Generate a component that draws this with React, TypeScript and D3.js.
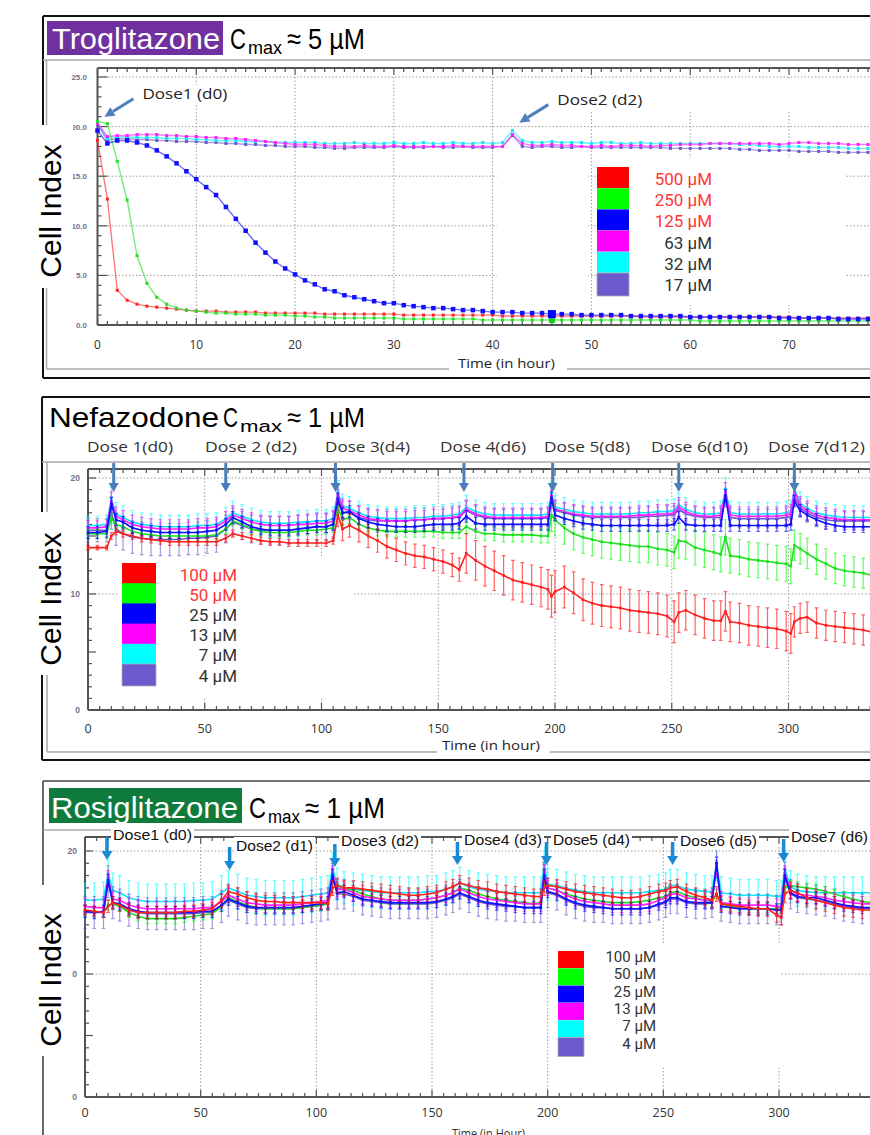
import React from 'react';
import * as d3 from 'd3';

// ---------- Troglitazone: one reading per hour ----------
const TRO_HOURS = [
  0, 1, 2, 3, 4, 5, 6, 7, 8, 9,
  10, 11, 12, 13, 14, 15, 16, 17, 18, 19,
  20, 21, 22, 23, 24, 25, 26, 27, 28, 29,
  30, 31, 32, 33, 34, 35, 36, 37, 38, 39,
  40, 41, 42, 43, 44, 45, 46, 47, 48, 49,
  50, 51, 52, 53, 54, 55, 56, 57, 58, 59,
  60, 61, 62, 63, 64, 65, 66, 67, 68, 69,
  70, 71, 72, 73, 74, 75, 76, 77, 78,
];
const TRO_500 = [
  18.6, 12.7, 3.5, 2.5, 2.1, 1.9, 1.8, 1.7, 1.6, 1.5,
  1.4, 1.4, 1.4, 1.3, 1.3, 1.3, 1.3, 1.2, 1.2, 1.2,
  1.2, 1.2, 1.2, 1.1, 1.1, 1.1, 1.1, 1.1, 1.1, 1.1,
  1.1, 1.0, 1.0, 1.0, 1.0, 1.0, 1.0, 1.0, 1.0, 1.0,
  1.0, 0.9, 0.9, 0.9, 0.9, 0.9, 0.9, 0.9, 0.9, 0.9,
  0.9, 0.9, 0.9, 0.9, 0.9, 0.8, 0.8, 0.8, 0.8, 0.8,
  0.8, 0.8, 0.8, 0.8, 0.8, 0.8, 0.8, 0.8, 0.8, 0.8,
  0.8, 0.7, 0.7, 0.7, 0.7, 0.7, 0.7, 0.7, 0.7,
];
const TRO_250 = [
  20.5, 20.3, 16.5, 12.6, 7.0, 4.2, 2.8, 2.1, 1.7, 1.5,
  1.4, 1.3, 1.2, 1.2, 1.1, 1.1, 1.1, 1.0, 1.0, 1.0,
  0.9, 0.9, 0.8, 0.8, 0.7, 0.7, 0.7, 0.7, 0.7, 0.7,
  0.7, 0.6, 0.6, 0.6, 0.6, 0.6, 0.6, 0.6, 0.6, 0.5,
  0.5, 0.5, 0.5, 0.5, 0.5, 0.5, 0.5, 0.5, 0.5, 0.5,
  0.5, 0.5, 0.5, 0.5, 0.5, 0.5, 0.5, 0.5, 0.5, 0.5,
  0.5, 0.4, 0.4, 0.4, 0.4, 0.4, 0.4, 0.4, 0.4, 0.4,
  0.4, 0.4, 0.4, 0.4, 0.4, 0.4, 0.4, 0.4, 0.4,
];
const TRO_125 = [
  19.6, 18.3, 18.6, 18.6, 18.4, 18.1, 17.6, 17.0, 16.3, 15.5,
  14.7, 13.9, 13.1, 11.9, 10.7, 9.5, 8.3, 7.3, 6.4, 5.7,
  5.1, 4.5, 4.1, 3.6, 3.4, 3.0, 2.8, 2.6, 2.4, 2.2,
  2.2, 2.0, 1.9, 1.8, 1.7, 1.7, 1.6, 1.5, 1.5, 1.4,
  1.3, 1.3, 1.3, 1.2, 1.2, 1.2, 1.1, 1.1, 1.1, 1.0,
  1.0, 1.0, 1.0, 1.0, 0.9, 0.9, 0.9, 0.9, 0.9, 0.9,
  0.8, 0.8, 0.8, 0.8, 0.8, 0.8, 0.8, 0.8, 0.8, 0.7,
  0.7, 0.7, 0.7, 0.7, 0.7, 0.6, 0.6, 0.6, 0.6,
];
const TRO_63 = [
  20.3, 19.0, 19.1, 19.1, 19.2, 19.2, 19.2, 19.1, 19.1, 19.0,
  19.0, 18.9, 18.9, 18.8, 18.8, 18.7, 18.6, 18.5, 18.4, 18.3,
  18.2, 18.2, 18.2, 18.1, 18.0, 18.0, 18.0, 18.1, 18.0, 18.0,
  18.1, 18.0, 18.0, 18.0, 18.0, 18.0, 18.1, 18.0, 18.0, 18.0,
  18.0, 18.0, 19.2, 18.3, 18.1, 18.1, 18.2, 18.1, 18.1, 18.0,
  18.0, 18.1, 18.0, 18.1, 18.1, 18.1, 18.0, 18.1, 18.1, 18.2,
  18.2, 18.2, 18.3, 18.3, 18.3, 18.3, 18.3, 18.3, 18.3, 18.2,
  18.3, 18.4, 18.4, 18.3, 18.3, 18.3, 18.2, 18.2, 18.2,
];
const TRO_32 = [
  20.5, 18.8, 19.0, 19.0, 18.9, 18.9, 18.9, 18.8, 18.8, 18.8,
  18.7, 18.7, 18.6, 18.6, 18.6, 18.5, 18.5, 18.5, 18.4, 18.4,
  18.4, 18.4, 18.4, 18.3, 18.3, 18.3, 18.4, 18.3, 18.3, 18.3,
  18.4, 18.3, 18.3, 18.4, 18.3, 18.3, 18.4, 18.3, 18.3, 18.4,
  18.3, 18.4, 19.6, 18.6, 18.4, 18.4, 18.5, 18.4, 18.4, 18.4,
  18.3, 18.4, 18.4, 18.3, 18.3, 18.4, 18.3, 18.3, 18.3, 18.3,
  18.3, 18.3, 18.3, 18.3, 18.3, 18.2, 18.2, 18.1, 18.0, 18.0,
  18.0, 18.0, 17.9, 17.9, 17.9, 17.9, 17.8, 17.8, 17.8,
];
const TRO_17 = [
  20.2, 18.6, 18.8, 18.8, 18.7, 18.7, 18.6, 18.6, 18.5, 18.5,
  18.5, 18.4, 18.4, 18.3, 18.3, 18.2, 18.2, 18.1, 18.1, 18.0,
  18.0, 18.0, 17.9, 17.9, 17.8, 17.8, 17.9, 17.9, 17.9, 17.9,
  18.0, 17.9, 17.9, 17.9, 18.0, 17.9, 17.9, 18.0, 17.9, 17.9,
  17.9, 18.0, 19.1, 18.0, 17.9, 18.0, 18.0, 17.9, 17.9, 18.0,
  17.9, 17.9, 17.9, 17.9, 17.9, 17.9, 17.9, 17.9, 17.8, 17.8,
  17.8, 17.8, 17.8, 17.8, 17.8, 17.7, 17.7, 17.6, 17.6, 17.6,
  17.6, 17.5, 17.5, 17.5, 17.5, 17.4, 17.4, 17.4, 17.4,
];
const TRO_CONC = ['500 µM', '250 µM', '125 µM', '63 µM', '32 µM', '17 µM'];
const TRO_X_TICKS = [0, 10, 20, 30, 40, 50, 60, 70];
const TRO_Y_TICKS = [0, 5, 10, 15, 20, 25];
const TRO_DOSES = [
  { label: 'Dose1 (d0)', hour: 0.7, ci: 21.0 },
  { label: 'Dose2 (d2)', hour: 42.7, ci: 20.4 },
];
const TRO_CURSOR_HOUR = 46;

// ---------- Nefazodone / Rosiglitazone: shared read times (h) ----------
const LONG_HOURS = [
  0, 4, 8, 10, 12, 15, 19, 23, 27, 31,
  35, 39, 43, 47, 51, 55, 59, 62, 66, 70,
  74, 78, 82, 86, 90, 94, 98, 102, 105, 107,
  109, 112, 116, 120, 124, 128, 132, 136, 140, 144,
  148, 152, 156, 159, 162, 166, 170, 174, 178, 182,
  186, 190, 194, 197, 198.5, 200, 204, 208, 212, 216,
  220, 224, 228, 232, 236, 240, 244, 248, 251, 253,
  256, 260, 264, 268, 271, 273, 275, 279, 283, 287,
  291, 295, 299, 301, 302.5, 305, 308, 312, 316, 320,
  324, 328, 332, 336, 340,
];
const CONC_6 = ['100 µM', '50 µM', '25 µM', '13 µM', '7 µM', '4 µM'];
const LONG_X_TICKS = [0, 50, 100, 150, 200, 250, 300];
const LONG_Y_TICKS = [0, 10, 20];
// error bar half-widths change at each dose
const ERR_SEGMENT_STARTS = [10, 58, 107, 160, 198, 252, 302];

const NEF_100 = [
  14.0, 14.0, 14.0, 15.0, 15.4, 15.2, 15.0, 14.8, 14.7, 14.6,
  14.5, 14.5, 14.5, 14.5, 14.5, 14.5, 14.8, 15.2, 15.0, 14.8,
  14.6, 14.5, 14.5, 14.4, 14.4, 14.4, 14.4, 14.4, 14.6, 16.8,
  15.6, 15.9, 15.5, 15.0, 14.6, 14.1, 13.8, 13.5, 13.3, 13.2,
  13.0, 12.8, 12.5, 12.1, 13.5, 12.9, 12.4, 12.0, 11.6, 11.2,
  11.0, 10.8, 10.6, 10.4, 9.8, 10.2, 10.6, 10.1, 9.5, 9.2,
  9.0, 8.9, 8.8, 8.6, 8.5, 8.4, 8.3, 8.1, 7.6, 8.4,
  8.6, 8.2, 7.9, 7.7, 7.7, 8.5, 7.6, 7.5, 7.3, 7.2,
  7.1, 7.0, 6.8, 6.6, 7.6, 7.9, 8.0, 7.5, 7.3, 7.2,
  7.1, 7.0, 6.9, 6.7, 6.6,
];
const NEF_50 = [
  15.2, 15.2, 15.2, 16.5, 16.0, 15.8, 15.4, 15.2, 15.1, 15.0,
  15.0, 15.0, 15.0, 15.0, 15.0, 15.1, 15.6, 16.3, 16.0, 15.6,
  15.4, 15.3, 15.3, 15.3, 15.4, 15.5, 15.5, 15.6, 15.7, 17.5,
  16.4, 16.6, 16.0, 15.7, 15.5, 15.4, 15.4, 15.4, 15.4, 15.4,
  15.4, 15.3, 15.3, 15.3, 15.8, 15.4, 15.2, 15.2, 15.1, 15.1,
  15.1, 15.1, 15.0, 15.0, 16.8, 16.4, 15.7, 15.2, 14.9, 14.7,
  14.5, 14.4, 14.3, 14.2, 14.1, 14.1, 13.9, 13.8, 13.6, 14.6,
  14.5, 14.0, 13.8, 13.6, 13.4, 14.9, 13.3, 13.2, 13.0, 12.9,
  12.8, 12.7, 12.6, 12.4, 14.2, 13.9, 13.5, 13.0, 12.6, 12.2,
  12.0, 11.9, 11.8, 11.6, 11.5,
];
const NEF_25 = [
  15.3, 15.3, 15.4, 17.8, 16.4, 16.2, 15.7, 15.5, 15.4, 15.3,
  15.3, 15.3, 15.3, 15.3, 15.4, 15.5, 16.0, 16.6, 16.2, 15.8,
  15.6, 15.5, 15.5, 15.5, 15.6, 15.7, 15.8, 15.8, 16.0, 18.2,
  17.0, 17.1, 16.5, 16.2, 16.0, 15.9, 15.8, 15.8, 15.8, 15.9,
  16.0, 16.0, 16.0, 16.1, 16.7, 16.1, 16.0, 16.0, 16.0, 16.0,
  16.0, 16.0, 16.0, 16.0, 18.3, 16.8, 16.5, 16.3, 16.1, 16.0,
  15.9, 15.9, 15.9, 15.9, 15.9, 15.9, 15.9, 15.9, 16.0, 16.6,
  16.0, 15.9, 15.9, 15.9, 15.9, 18.5, 15.9, 15.9, 15.9, 15.9,
  15.9, 15.9, 15.9, 16.0, 18.0, 17.2, 16.8, 16.4, 16.1, 15.9,
  15.8, 15.8, 15.8, 15.8, 15.8,
];
const NEF_13 = [
  15.7, 15.7, 15.8, 18.0, 16.7, 16.4, 16.0, 15.8, 15.7, 15.6,
  15.6, 15.6, 15.6, 15.7, 15.7, 15.8, 16.3, 16.8, 16.5, 16.2,
  16.0, 15.9, 15.9, 15.9, 16.0, 16.0, 16.1, 16.1, 16.3, 18.6,
  17.4, 17.2, 16.8, 16.5, 16.4, 16.3, 16.3, 16.3, 16.4, 16.4,
  16.5, 16.5, 16.6, 16.7, 17.3, 16.9, 16.7, 16.6, 16.6, 16.6,
  16.6, 16.6, 16.6, 16.7, 18.5, 17.3, 17.1, 16.9, 16.8, 16.7,
  16.7, 16.7, 16.7, 16.7, 16.8, 16.8, 16.9, 16.9, 17.0, 17.5,
  17.1, 16.8, 16.7, 16.7, 16.8, 18.8, 16.8, 16.7, 16.7, 16.7,
  16.7, 16.7, 16.8, 16.9, 18.9, 17.6, 17.2, 16.8, 16.6, 16.5,
  16.4, 16.4, 16.4, 16.4, 16.4,
];
const NEF_7 = [
  15.9, 15.9, 16.0, 18.2, 16.9, 16.6, 16.2, 16.0, 15.9, 15.8,
  15.8, 15.8, 15.8, 15.9, 15.9, 16.0, 16.5, 17.0, 16.7, 16.4,
  16.2, 16.1, 16.1, 16.1, 16.2, 16.2, 16.3, 16.3, 16.5, 18.8,
  17.6, 17.4, 17.0, 16.7, 16.6, 16.5, 16.5, 16.5, 16.6, 16.6,
  16.7, 16.7, 16.8, 16.9, 17.5, 17.1, 16.9, 16.8, 16.8, 16.8,
  16.8, 16.8, 16.8, 16.9, 18.7, 17.5, 17.3, 17.1, 17.0, 16.9,
  16.9, 16.9, 16.9, 16.9, 17.0, 17.0, 17.1, 17.1, 17.2, 17.7,
  17.3, 17.0, 16.9, 16.9, 17.0, 19.0, 17.0, 16.9, 16.9, 16.9,
  16.9, 16.9, 17.0, 17.1, 19.1, 17.8, 17.4, 17.0, 16.8, 16.7,
  16.6, 16.6, 16.6, 16.6, 16.6,
];
const NEF_4 = [
  15.5, 15.5, 15.5, 17.0, 15.6, 15.2, 14.9, 14.8, 14.7, 14.7,
  14.7, 14.7, 14.8, 14.8, 14.9, 15.0, 15.6, 16.2, 15.9, 15.6,
  15.5, 15.5, 15.5, 15.5, 15.6, 15.7, 15.8, 15.8, 16.0, 18.0,
  17.0, 17.0, 16.6, 16.4, 16.3, 16.3, 16.3, 16.3, 16.4, 16.4,
  16.5, 16.5, 16.6, 16.6, 17.2, 16.8, 16.6, 16.5, 16.5, 16.5,
  16.5, 16.5, 16.5, 16.6, 18.2, 17.2, 17.0, 16.8, 16.7, 16.6,
  16.6, 16.6, 16.6, 16.6, 16.6, 16.7, 16.7, 16.8, 16.8, 17.3,
  16.9, 16.7, 16.6, 16.6, 16.6, 18.3, 16.6, 16.5, 16.5, 16.5,
  16.5, 16.5, 16.6, 16.7, 18.4, 17.4, 17.0, 16.6, 16.4, 16.3,
  16.3, 16.3, 16.3, 16.3, 16.3,
];
const NEF_ERR_100 = [0.2, 0.3, 0.3, 1.0, 1.7, 1.8, 1.7, 1.3];
const NEF_ERR_50 = [0.4, 0.4, 0.4, 0.5, 0.6, 1.4, 1.5, 1.3];
const NEF_ERR_25 = [0.5, 0.5, 0.5, 0.5, 0.5, 0.5, 0.5, 0.5];
const NEF_ERR_13 = [0.6, 0.8, 0.8, 0.8, 0.8, 0.8, 0.8, 0.8];
const NEF_ERR_7 = [0.8, 1.0, 1.0, 1.0, 1.0, 1.0, 1.0, 1.0];
const NEF_ERR_4 = [1.0, 1.4, 1.2, 1.0, 0.8, 0.8, 0.8, 0.8];
const NEF_DOSE_HOURS = [11, 59, 106, 161, 199, 253, 302.5];
const NEF_DOSE_LABELS = ['Dose 1(d0)', 'Dose 2 (d2)', 'Dose 3(d4)', 'Dose 4(d6)', 'Dose 5(d8)', 'Dose 6(d10)', 'Dose 7(d12)'];

const ROS_100 = [
  15.2, 15.1, 15.0, 15.5, 15.8, 15.6, 15.2, 15.0, 15.0, 15.0,
  15.0, 15.0, 15.1, 15.1, 15.2, 15.3, 16.0, 16.7, 16.5, 16.2,
  16.0, 15.9, 15.9, 15.8, 15.8, 15.8, 15.8, 15.8, 15.7, 17.0,
  17.2, 17.0, 17.0, 16.9, 16.8, 16.7, 16.6, 16.5, 16.4, 16.4,
  16.5, 16.6, 16.9, 17.1, 17.4, 17.2, 17.0, 16.9, 16.7, 16.6,
  16.5, 16.4, 16.3, 16.3, 17.0, 17.2, 17.1, 16.9, 16.7, 16.6,
  16.5, 16.4, 16.3, 16.2, 16.2, 16.3, 16.5, 16.7, 16.8, 17.0,
  17.1, 16.7, 16.4, 16.2, 16.0, 16.5, 15.7, 15.6, 15.5, 15.4,
  15.3, 15.3, 14.8, 14.6, 16.5, 16.8, 16.6, 16.2, 16.0, 15.8,
  15.6, 15.4, 15.3, 15.2, 15.2,
];
const ROS_50 = [
  15.2, 15.1, 15.0, 15.6, 15.7, 15.5, 15.0, 14.7, 14.5, 14.5,
  14.5, 14.5, 14.6, 14.7, 14.8, 14.9, 15.5, 16.2, 15.9, 15.6,
  15.4, 15.3, 15.3, 15.3, 15.3, 15.4, 15.5, 15.6, 15.7, 17.8,
  17.0, 16.9, 16.8, 16.5, 16.3, 16.1, 16.0, 16.0, 16.0, 16.0,
  16.1, 16.2, 16.4, 16.6, 17.0, 16.8, 16.5, 16.3, 16.1, 16.0,
  15.9, 15.8, 15.7, 15.8, 17.5, 17.0, 16.8, 16.5, 16.3, 16.1,
  16.0, 15.9, 15.8, 15.8, 15.8, 15.9, 16.0, 16.2, 16.3, 16.6,
  16.7, 16.4, 16.2, 16.0, 15.9, 16.5, 15.7, 15.5, 15.4, 15.3,
  15.3, 15.3, 15.3, 15.4, 17.0, 17.2, 17.1, 17.0, 16.9, 16.7,
  16.5, 16.3, 16.1, 15.9, 15.8,
];
const ROS_25 = [
  15.1, 15.0, 15.1, 17.6, 15.8, 15.7, 15.3, 15.1, 15.0, 15.0,
  15.0, 15.0, 15.0, 15.0, 15.1, 15.1, 15.6, 16.1, 15.8, 15.5,
  15.4, 15.4, 15.4, 15.4, 15.4, 15.5, 15.6, 15.7, 15.8, 18.0,
  16.6, 16.7, 16.4, 16.1, 16.0, 15.9, 15.8, 15.8, 15.8, 15.8,
  15.8, 15.9, 16.1, 16.3, 16.6, 16.3, 16.0, 15.8, 15.7, 15.6,
  15.5, 15.4, 15.4, 15.4, 18.0, 16.7, 16.5, 16.1, 15.8, 15.6,
  15.5, 15.4, 15.3, 15.3, 15.3, 15.3, 15.4, 15.7, 15.9, 16.2,
  16.2, 15.9, 15.8, 15.8, 15.8, 19.0, 15.5, 15.4, 15.3, 15.3,
  15.3, 15.3, 15.2, 15.2, 18.0, 16.6, 16.3, 16.2, 16.2, 16.0,
  15.8, 15.6, 15.5, 15.4, 15.4,
];
const ROS_13 = [
  15.5, 15.4, 15.4, 17.8, 16.1, 16.0, 15.6, 15.4, 15.3, 15.3,
  15.3, 15.3, 15.3, 15.3, 15.4, 15.4, 15.9, 16.4, 16.1, 15.8,
  15.7, 15.6, 15.6, 15.6, 15.6, 15.7, 15.8, 15.9, 16.0, 18.2,
  16.9, 16.9, 16.6, 16.3, 16.2, 16.1, 16.0, 16.0, 16.0, 16.0,
  16.1, 16.2, 16.4, 16.6, 16.9, 16.6, 16.3, 16.1, 16.0, 15.9,
  15.8, 15.7, 15.7, 15.7, 18.3, 17.0, 16.8, 16.4, 16.1, 15.9,
  15.8, 15.7, 15.6, 15.6, 15.6, 15.6, 15.7, 16.0, 16.2, 16.5,
  16.5, 16.2, 16.1, 16.0, 16.0, 18.6, 15.8, 15.7, 15.6, 15.6,
  15.6, 15.6, 15.5, 15.5, 18.2, 16.8, 16.5, 16.4, 16.3, 16.2,
  16.0, 15.9, 15.8, 15.7, 15.7,
];
const ROS_7 = [
  16.0, 16.0, 16.1, 18.2, 16.8, 16.6, 16.2, 16.0, 15.9, 15.9,
  15.9, 15.9, 15.9, 16.0, 16.0, 16.1, 16.6, 17.0, 16.7, 16.4,
  16.3, 16.2, 16.2, 16.2, 16.2, 16.3, 16.4, 16.5, 16.6, 18.6,
  17.3, 17.0, 16.9, 16.8, 16.7, 16.6, 16.6, 16.6, 16.6, 16.6,
  16.7, 16.7, 16.9, 17.1, 17.4, 17.1, 16.9, 16.8, 16.7, 16.6,
  16.6, 16.6, 16.6, 16.6, 19.0, 17.3, 17.2, 17.0, 16.8, 16.7,
  16.6, 16.6, 16.6, 16.6, 16.6, 16.6, 16.7, 16.8, 16.9, 17.2,
  17.2, 16.9, 16.8, 16.7, 16.7, 18.9, 16.6, 16.5, 16.4, 16.4,
  16.4, 16.4, 16.3, 16.3, 18.6, 17.1, 16.8, 16.7, 16.6, 16.6,
  16.6, 16.6, 16.6, 16.6, 16.6,
];
const ROS_4 = [
  15.0, 15.0, 15.0, 17.5, 15.8, 15.6, 15.2, 15.0, 14.9, 14.9,
  14.9, 14.9, 14.9, 14.9, 15.0, 15.0, 15.5, 16.0, 15.7, 15.4,
  15.3, 15.3, 15.3, 15.3, 15.3, 15.4, 15.5, 15.6, 15.7, 17.8,
  16.5, 16.5, 16.3, 16.0, 15.9, 15.8, 15.7, 15.7, 15.7, 15.7,
  15.7, 15.8, 16.0, 16.2, 16.5, 16.2, 15.9, 15.7, 15.6, 15.5,
  15.5, 15.4, 15.4, 15.4, 17.9, 16.6, 16.4, 16.0, 15.7, 15.5,
  15.4, 15.4, 15.3, 15.3, 15.3, 15.3, 15.4, 15.6, 15.8, 16.1,
  16.1, 15.8, 15.7, 15.7, 15.8, 19.0, 15.5, 15.4, 15.3, 15.3,
  15.3, 15.3, 15.2, 15.2, 17.9, 16.5, 16.2, 16.1, 16.0, 15.9,
  15.7, 15.5, 15.4, 15.3, 15.3,
];
const ROS_ERR_100 = [0.4, 0.5, 0.5, 0.6, 0.6, 0.6, 0.6, 0.7];
const ROS_ERR_50 = [0.4, 0.4, 0.4, 0.4, 0.4, 0.4, 0.4, 0.4];
const ROS_ERR_25 = [0.5, 0.5, 0.5, 0.5, 0.5, 0.5, 0.5, 0.5];
const ROS_ERR_13 = [0.6, 0.6, 0.6, 0.6, 0.6, 0.6, 0.6, 0.6];
const ROS_ERR_7 = [1.4, 1.4, 1.4, 1.3, 1.3, 1.3, 1.3, 1.3];
const ROS_ERR_4 = [1.3, 1.3, 1.3, 1.2, 1.2, 1.2, 1.2, 1.2];
const ROS_DOSE_HOURS = [9.5, 62.5, 108, 161, 199.5, 254, 302];
const ROS_DOSE_LABELS = ['Dose1 (d0)', 'Dose2 (d1)', 'Dose3 (d2)', 'Dose4 (d3)', 'Dose5 (d4)', 'Dose6 (d5)', 'Dose7 (d6)'];

// ---------- styling / layout ----------
const W = 870;
const H = 1135;
const ARIAL = "'Liberation Sans', Arial, Helvetica, sans-serif";
const UI = "'Open Sans', 'Noto Sans', sans-serif";
const LEGEND_FONT = "Roboto, 'Open Sans', sans-serif";
const COLORS = ['#ff0000', '#00ff00', '#0000ff', '#ff00ff', '#00ffff', '#6a5acd'];
const LINE_COLORS = ['#ff2020', '#1ee01e', '#1010ff', '#ff20ff', '#10e8f5', '#6a5acd'];
const LEGEND_RED = '#ff3535';
const AXIS_GRAY = '#545454';

const NEF_LABEL_X = [130, 251, 367.5, 483, 587, 699.5, 816.5];
const NEF_LABEL_W = [86, 92, 85, 86, 86, 97, 97];
const ROS_LABEL_X = [113, 236, 341, 464, 553, 680, 791];
const ROS_LABEL_W = [79, 77, 78, 78, 77, 77, 77];
const ROS_LABEL_Y = [840, 851, 846, 845, 845, 846, 842];
const ROS_ARROW_TIP = [860, 870, 867, 865, 865, 865, 862];

function Arrow({ x1, y1, x2, y2, color, width = 3, headLen = 10, headW = 10 }: any) {
  const a = Math.atan2(y2 - y1, x2 - x1);
  const bx = x2 - headLen * Math.cos(a);
  const by = y2 - headLen * Math.sin(a);
  const nx = (-Math.sin(a) * headW) / 2;
  const ny = (Math.cos(a) * headW) / 2;
  return (
    <g>
      <line x1={x1} y1={y1} x2={bx} y2={by} stroke={color} strokeWidth={width} />
      <polygon points={`${x2},${y2} ${bx + nx},${by + ny} ${bx - nx},${by - ny}`} fill={color} />
    </g>
  );
}

function Grid({ x, y, xs, ys, left, right, top, bottom }: any) {
  return (
    <g stroke="#9e9e9e" strokeWidth={1} strokeDasharray="1.5 2">
      {xs.map((t: number) => (
        <line key={'v' + t} x1={x(t)} x2={x(t)} y1={top} y2={bottom} />
      ))}
      {ys.map((v: number) => (
        <line key={'h' + v} x1={left} x2={right} y1={y(v)} y2={y(v)} />
      ))}
    </g>
  );
}

function AxisFrame({ x, y, left, top, bottom, xMax, xMinor, xMajor, yMax, yMinor, yMajor, xLen, yLen }: any) {
  const xs = d3.range(0, xMax + 1e-6, xMinor);
  const ys = d3.range(0, yMax + 1e-6, yMinor);
  const major = (v: number, s: number) => Math.abs(v / s - Math.round(v / s)) < 1e-6;
  return (
    <g stroke={AXIS_GRAY}>
      <line x1={left} x2={left} y1={top} y2={bottom} strokeWidth={2} />
      <line x1={left} x2={W + 2} y1={top} y2={top} strokeWidth={2} />
      <line x1={left} x2={W + 2} y1={bottom} y2={bottom} strokeWidth={2} />
      {xs.map((t: number) => {
        const len = major(t, xMajor) ? xLen[1] : xLen[0];
        const px = x(t);
        return (
          <g key={'x' + t}>
            <line x1={px} x2={px} y1={bottom} y2={bottom - len} strokeWidth={1.2} />
            <line x1={px} x2={px} y1={top} y2={top + len} strokeWidth={1.2} />
          </g>
        );
      })}
      {ys.map((v: number) => {
        const len = major(v, yMajor) ? yLen[1] : yLen[0];
        return <line key={'y' + v} x1={left} x2={left + len} y1={y(v)} y2={y(v)} strokeWidth={1.2} />;
      })}
    </g>
  );
}

function CmaxLabel({ x, y, size, cW, subX, subW, restX, restW, rest }: any) {
  return (
    <g fontFamily={ARIAL} fill="#000">
      <text x={x} y={y} fontSize={size} textLength={cW} lengthAdjust="spacingAndGlyphs">C</text>
      <text x={subX} y={y + 5} fontSize={size * 0.62} textLength={subW} lengthAdjust="spacingAndGlyphs">max</text>
      <text x={restX} y={y} fontSize={size} textLength={restW} lengthAdjust="spacingAndGlyphs">{rest}</text>
    </g>
  );
}

function CellIndex({ cy, box }: any) {
  return (
    <g>
      <rect x={box[0]} y={box[1]} width={box[2]} height={box[3]} fill="#fff" />
      <text transform={`translate(61,${cy}) rotate(-90)`} textAnchor="middle" fontSize={30} fontFamily={ARIAL} fill="#000">
        Cell Index
      </text>
    </g>
  );
}

function Legend({ left, w, top, pitch, h, lastH, labelRight, baseline, fontSize, redCount, labels }: any) {
  return (
    <g>
      {labels.map((c: string, i: number) => (
        <g key={c}>
          <rect x={left} y={top + i * pitch} width={w} height={i === labels.length - 1 ? lastH : h} fill={COLORS[i]} stroke={i === labels.length - 1 ? '#aaa' : 'none'} strokeWidth={0.8} />
          <text x={labelRight} y={baseline + i * pitch} textAnchor="end" fontSize={fontSize} fontFamily={LEGEND_FONT} fill={i < redCount ? LEGEND_RED : '#333'}>
            {c}
          </text>
        </g>
      ))}
    </g>
  );
}

function ErrSeries({ x, y, values, errs, color, lineColor }: any) {
  const line = d3.line<number>().x((_, i) => x(LONG_HOURS[i])).y((d) => y(d));
  return (
    <g>
      <g stroke={color} strokeOpacity={0.62} strokeWidth={1.2} fill="none">
        {values.map((v: number, i: number) => {
          const e = errs[d3.bisectRight(ERR_SEGMENT_STARTS, LONG_HOURS[i])];
          const px = x(LONG_HOURS[i]);
          const a = y(v + e);
          const b = y(v - e);
          return <path key={i} d={`M${px},${a}V${b}M${px - 1.8},${a}H${px + 1.8}M${px - 1.8},${b}H${px + 1.8}`} />;
        })}
      </g>
      <path d={line(values) || ''} fill="none" stroke={lineColor} strokeWidth={1.6} />
      {values.map((v: number, i: number) => (
        <rect key={'m' + i} x={x(LONG_HOURS[i]) - 1.3} y={y(v) - 1.3} width={2.6} height={2.6} fill={lineColor} />
      ))}
    </g>
  );
}

function TroglitazonePanel() {
  const x = d3.scaleLinear().domain([0, 70]).range([97.5, 789]);
  const y = d3.scaleLinear().domain([0, 25]).range([325, 77]);
  const series = [TRO_500, TRO_250, TRO_125, TRO_63, TRO_32, TRO_17];
  const order = [5, 4, 3, 0, 1, 2];
  const marker = [3, 3, 4.5, 3, 3, 3];
  const line = d3.line<number>().x((_, i) => x(TRO_HOURS[i])).y((d) => y(d));
  const ci = TRO_HOURS.indexOf(TRO_CURSOR_HOUR);
  return (
    <g>
      <path d="M43,16H872M43,16V378M43,378H872" fill="none" stroke="#111" strokeWidth={2} />
      <path d="M43,60H872M46.5,60V369M46.5,369H872" fill="none" stroke="#a8a8a8" strokeWidth={1.5} />
      <Grid x={x} y={y} xs={TRO_X_TICKS.filter((t) => t > 0)} ys={TRO_Y_TICKS.filter((v) => v > 0)} left={97.5} right={W} top={y(25)} bottom={y(0)} />
      <rect x={545} y={78.5} width={255} height={33} fill="#fff" />
      <rect x={497} y={158} width={91} height={147} fill="#fff" />
      <rect x={596} y={158} width={249} height={147} fill="#fff" />
      <AxisFrame x={x} y={y} left={97.5} top={68} bottom={325} xMax={80} xMinor={1} xMajor={10} yMax={25} yMinor={1} yMajor={5} xLen={[4, 7]} yLen={[4, 10]} />
      {TRO_Y_TICKS.map((v) => (
        <text key={v} x={87} y={y(v) + 3} textAnchor="end" fontSize={8} fontWeight="bold" fill="#6f7392" fontFamily={ARIAL}>
          {d3.format('.1f')(v)}
        </text>
      ))}
      {TRO_X_TICKS.map((t) => (
        <text key={t} x={x(t)} y={349} textAnchor="middle" fontSize={12} fill="#333" fontFamily={UI}>
          {t}
        </text>
      ))}
      {order.map((k) => (
        <g key={k}>
          <path d={line(series[k]) || ''} fill="none" stroke={LINE_COLORS[k]} strokeOpacity={0.6} strokeWidth={1.4} />
          {series[k].map((v, i) => (
            <rect key={i} x={x(TRO_HOURS[i]) - marker[k] / 2} y={y(v) - marker[k] / 2} width={marker[k]} height={marker[k]} fill={LINE_COLORS[k]} />
          ))}
        </g>
      ))}
      <rect x={x(TRO_CURSOR_HOUR) - 3} y={y(TRO_250[ci]) - 3} width={6} height={6} fill="#10d010" />
      <rect x={x(TRO_CURSOR_HOUR) - 4} y={y(TRO_125[ci]) - 4} width={8} height={8} fill="#0000ff" />
      <Legend left={597} w={32} top={167} pitch={21.2} h={21} lastH={23} labelRight={712} baseline={185} fontSize={17} redCount={3} labels={TRO_CONC} />
      {TRO_DOSES.map((d) => {
        const tx = x(d.hour);
        const ty = y(d.ci);
        const sx = tx + 29;
        const sy = ty - 18;
        return (
          <g key={d.label}>
            <Arrow x1={sx} y1={sy} x2={tx} y2={ty} color="#4f81bd" width={3} headLen={10} headW={10} />
            <rect x={sx + 7} y={sy - 14} width={89} height={19} fill="#fff" />
            <text x={sx + 9} y={sy} fontSize={15} fontFamily={UI} fill="#222" textLength={85} lengthAdjust="spacingAndGlyphs">
              {d.label}
            </text>
          </g>
        );
      })}
      <rect x={47} y={21} width={176} height={34} fill="#7030a0" />
      <text x={52} y={49} fontSize={30} fill="#fff" fontFamily={ARIAL} textLength={168} lengthAdjust="spacingAndGlyphs">
        Troglitazone
      </text>
      <CmaxLabel x={230} y={49} size={30} cW={16} subX={248} subW={34} restX={287} restW={78} rest="≈ 5 µM" />
      <CellIndex cy={211} box={[28, 125, 45, 163]} />
      <rect x={449} y={360} width={118} height={16} fill="#fff" />
      <text x={458} y={368} fontSize={13} fontFamily={UI} fill="#222" textLength={97} lengthAdjust="spacingAndGlyphs">
        Time (in hour)
      </text>
    </g>
  );
}

function NefazodonePanel() {
  const x = d3.scaleLinear().domain([0, 300]).range([88, 788.5]);
  const y = d3.scaleLinear().domain([0, 20]).range([710, 478]);
  const series = [NEF_100, NEF_50, NEF_25, NEF_13, NEF_7, NEF_4];
  const errs = [NEF_ERR_100, NEF_ERR_50, NEF_ERR_25, NEF_ERR_13, NEF_ERR_7, NEF_ERR_4];
  const order = [5, 4, 3, 1, 0, 2];
  return (
    <g>
      <path d="M42,397H872M42,397V760M42,760H872" fill="none" stroke="#111" strokeWidth={2} />
      <path d="M42,462H872M47,462V752M47,752H872" fill="none" stroke="#a8a8a8" strokeWidth={1.5} />
      <Grid x={x} y={y} xs={LONG_X_TICKS.filter((t) => t > 0)} ys={LONG_Y_TICKS.filter((v) => v > 0)} left={88} right={W} top={y(20)} bottom={y(0)} />
      <rect x={118} y={556} width={234} height={141} fill="#fff" />
      <AxisFrame x={x} y={y} left={88} top={469} bottom={710} xMax={350} xMinor={5} xMajor={50} yMax={20} yMinor={1} yMajor={5} xLen={[4, 7]} yLen={[4, 8]} />
      {LONG_Y_TICKS.map((v) => (
        <text key={v} x={80} y={y(v) + 3} textAnchor="end" fontSize={8.5} fontWeight="bold" fill="#6f7392" fontFamily={ARIAL}>
          {v}
        </text>
      ))}
      {LONG_X_TICKS.map((t) => (
        <text key={t} x={x(t)} y={733} textAnchor="middle" fontSize={12.5} fill="#333" fontFamily={UI}>
          {t}
        </text>
      ))}
      {order.map((k) => (
        <ErrSeries key={k} x={x} y={y} values={series[k]} errs={errs[k]} color={COLORS[k]} lineColor={LINE_COLORS[k]} />
      ))}
      <Legend left={122} w={34} top={563} pitch={20.2} h={21} lastH={22} labelRight={237} baseline={580.5} fontSize={17} redCount={2} labels={CONC_6} />
      {NEF_DOSE_HOURS.map((h, i) => (
        <g key={h}>
          <Arrow x1={x(h)} y1={463} x2={x(h)} y2={492} color="#4a7ebb" width={3} headLen={9} headW={10} />
          <text x={NEF_LABEL_X[i]} y={452} textAnchor="middle" fontSize={15} fontFamily={UI} fill="#333" textLength={NEF_LABEL_W[i]} lengthAdjust="spacingAndGlyphs">
            {NEF_DOSE_LABELS[i]}
          </text>
        </g>
      ))}
      <text x={49} y={427} fontSize={28} fill="#000" fontFamily={ARIAL} textLength={170} lengthAdjust="spacingAndGlyphs">
        Nefazodone
      </text>
      <CmaxLabel x={223} y={427} size={28} cW={15} subX={240} subW={42} restX={287} restW={78} rest="≈ 1 µM" />
      <CellIndex cy={599} box={[28, 512, 40, 163]} />
      <rect x={437} y={741} width={113} height={16} fill="#fff" />
      <text x={442} y={750} fontSize={13} fontFamily={UI} fill="#222" textLength={98} lengthAdjust="spacingAndGlyphs">
        Time (in hour)
      </text>
    </g>
  );
}

function RosiglitazonePanel() {
  const x = d3.scaleLinear().domain([0, 300]).range([85, 779]);
  const y = d3.scaleLinear().domain([0, 20]).range([1097, 851]);
  const series = [ROS_100, ROS_50, ROS_25, ROS_13, ROS_7, ROS_4];
  const errs = [ROS_ERR_100, ROS_ERR_50, ROS_ERR_25, ROS_ERR_13, ROS_ERR_7, ROS_ERR_4];
  const order = [4, 5, 1, 3, 2, 0];
  return (
    <g>
      <path d="M43,781H872M43,781V1136" fill="none" stroke="#444" strokeWidth={1.6} />
      <path d="M43,830H872" fill="none" stroke="#a8a8a8" strokeWidth={1.5} />
      <Grid x={x} y={y} xs={LONG_X_TICKS.filter((t) => t > 0)} ys={LONG_Y_TICKS.filter((v) => v > 0)} left={85} right={W} top={847} bottom={y(0)} />
      <rect x={550} y={943} width={231} height={124} fill="#fff" />
      <AxisFrame x={x} y={y} left={85} top={837} bottom={1097} xMax={350} xMinor={5} xMajor={50} yMax={20} yMinor={1} yMajor={5} xLen={[4, 7]} yLen={[4, 8]} />
      {LONG_Y_TICKS.map((v) => (
        <text key={v} x={77} y={y(v) + 3} textAnchor="end" fontSize={8.5} fontWeight="bold" fill="#6f7392" fontFamily={ARIAL}>
          {v}
        </text>
      ))}
      {LONG_X_TICKS.map((t) => (
        <text key={t} x={x(t)} y={1117} textAnchor="middle" fontSize={12.5} fill="#333" fontFamily={UI}>
          {t}
        </text>
      ))}
      {order.map((k) => (
        <ErrSeries key={k} x={x} y={y} values={series[k]} errs={errs[k]} color={COLORS[k]} lineColor={LINE_COLORS[k]} />
      ))}
      <Legend left={558} w={26} top={951} pitch={17.3} h={17} lastH={19} labelRight={656} baseline={962} fontSize={15} redCount={0} labels={CONC_6} />
      {ROS_DOSE_LABELS.map((lab, i) => (
        <g key={lab}>
          <rect x={ROS_LABEL_X[i] - 2} y={ROS_LABEL_Y[i] - 14} width={ROS_LABEL_W[i] + 4} height={18} fill="#fff" />
          <text x={ROS_LABEL_X[i]} y={ROS_LABEL_Y[i]} fontSize={15.5} fontFamily={ARIAL} fill="#111" textLength={ROS_LABEL_W[i]} lengthAdjust="spacingAndGlyphs">
            {lab}
          </text>
        </g>
      ))}
      {ROS_DOSE_HOURS.map((h, i) => (
        <Arrow key={h} x1={x(h)} y1={ROS_ARROW_TIP[i] - 23} x2={x(h)} y2={ROS_ARROW_TIP[i]} color="#1a8ad4" width={3.5} headLen={9} headW={11} />
      ))}
      <rect x={49} y={788} width={193} height={35} fill="#0e7a3b" />
      <text x={51} y={818} fontSize={29} fill="#fff" fontFamily={ARIAL} textLength={187} lengthAdjust="spacingAndGlyphs">
        Rosiglitazone
      </text>
      <CmaxLabel x={249} y={818} size={29} cW={17} subX={268} subW={32} restX={305} restW={80} rest="≈ 1 µM" />
      <CellIndex cy={980} box={[28, 885, 44, 171]} />
      <text x={452} y={1138} fontSize={12.5} fontFamily={UI} fill="#333" textLength={73} lengthAdjust="spacingAndGlyphs">
        Time (in Hour)
      </text>
    </g>
  );
}

export default function App() {
  return (
    <svg width={W} height={H} viewBox={`0 0 ${W} ${H}`} style={{ position: 'absolute', left: 0, top: 0, display: 'block' }}>
      <rect width={W} height={H} fill="#fff" />
      <TroglitazonePanel />
      <NefazodonePanel />
      <RosiglitazonePanel />
    </svg>
  );
}
